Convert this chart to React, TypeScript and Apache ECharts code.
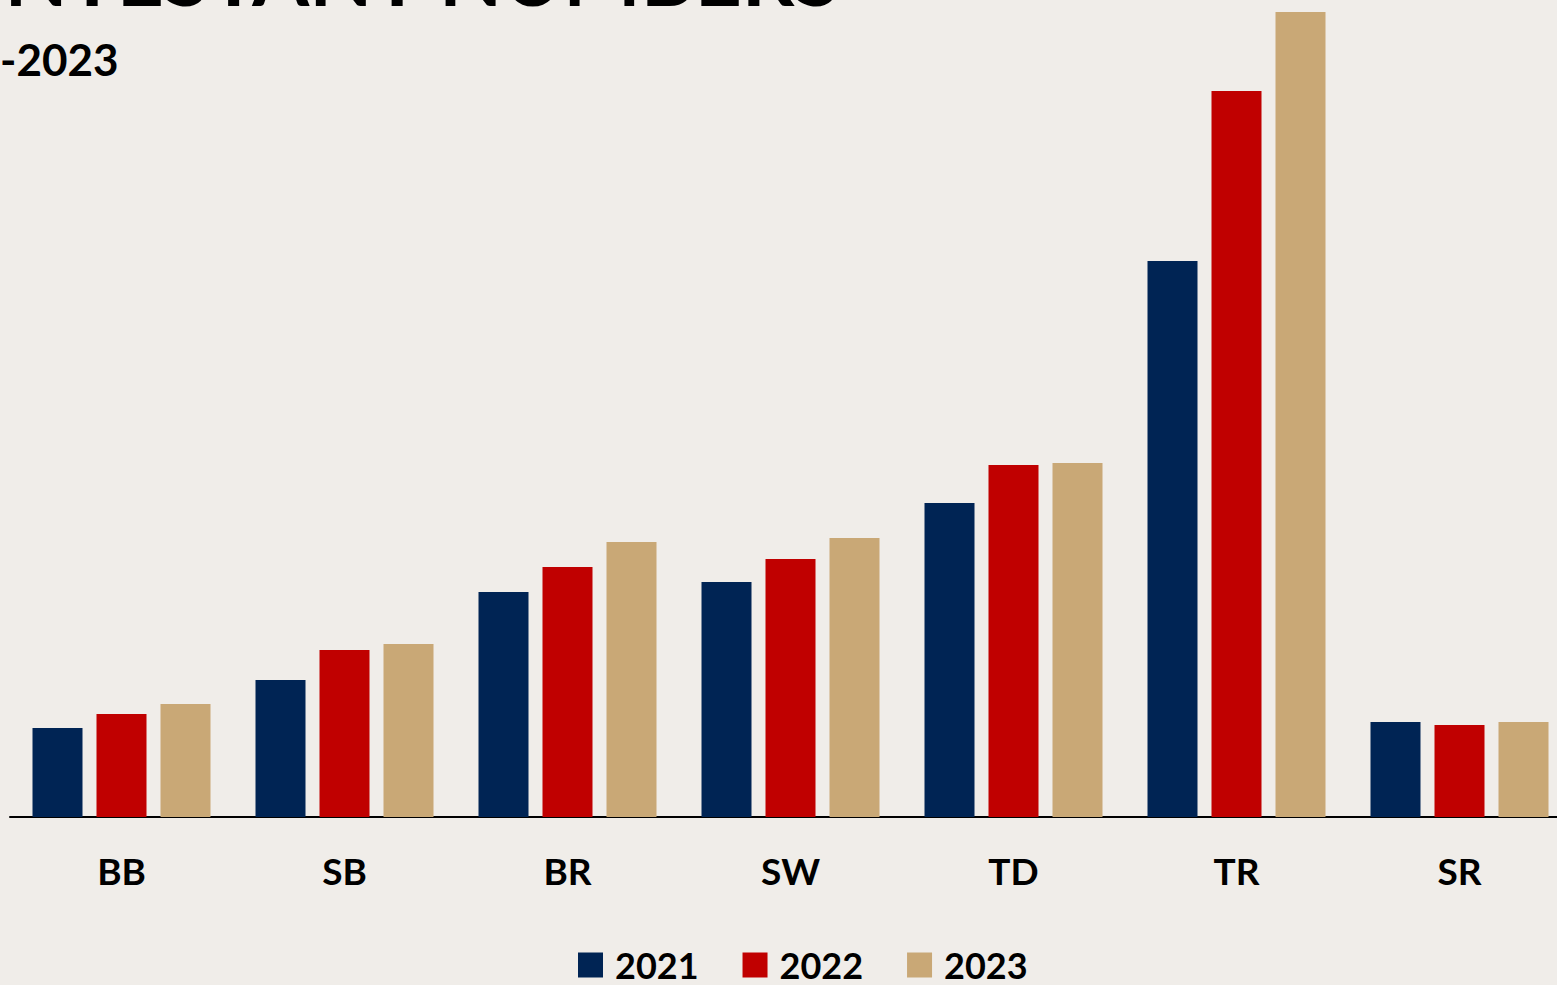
import React, { useEffect, useRef } from "react";
import * as echarts from "echarts";

const categories = ["BB", "SB", "BR", "SW", "TD", "TR", "SR"];
const seriesNames = ["2021", "2022", "2023"];
const values2021 = [89, 137, 225, 235, 314, 556, 95];
const values2022 = [103, 167, 250, 258, 352, 726, 92];
const values2023 = [113, 173, 275, 279, 354, 805, 95];
const colors = ["#002454", "#C00000", "#C9A876"];
const titleText = "CONTESTANT NUMBERS";
const subtitleText = "-2023";

const FONT = "Lato, 'Open Sans', sans-serif";

export default function App() {
  const ref = useRef<HTMLDivElement>(null);
  useEffect(() => {
    document.body.style.margin = "0";
    document.body.style.overflow = "hidden";
    const chart = echarts.init(ref.current!, null, { renderer: "svg" });
    const data = [values2021, values2022, values2023];
    chart.setOption({
      animation: false,
      backgroundColor: "#F0EDE9",
      textStyle: { fontFamily: FONT },
      graphic: [
        {
          type: "text",
          right: 1580 - 842,
          top: -67,
          style: {
            text: titleText,
            font: `bold 82px ${FONT}`,
            fill: "#000",
          },
        },
        {
          type: "text",
          left: 0,
          top: 37,
          style: {
            text: subtitleText,
            font: `bold 44px ${FONT}`,
            fill: "#000",
          },
        },
      ],
      legend: {
        data: seriesNames,
        left: 578,
        top: 947,
        padding: 0,
        itemWidth: 25,
        itemHeight: 25,
        itemGap: 44,
        icon: "rect",
        textStyle: {
          fontSize: 36,
          lineHeight: 28,
          fontWeight: "bold",
          color: "#000",
          fontFamily: FONT,
          padding: [0, 0, 0, 7],
        },
      },
      grid: { left: 10, top: 12, width: 1561, height: 805 },
      xAxis: {
        type: "category",
        data: categories,
        axisLine: { show: true, lineStyle: { color: "#000", width: 2 } },
        axisTick: { show: false },
        axisLabel: {
          color: "#000",
          fontSize: 37,
          fontWeight: "bold",
          fontFamily: FONT,
          margin: 35,
        },
      },
      yAxis: {
        type: "value",
        min: 0,
        max: 805,
        show: false,
        splitLine: { show: false },
      },
      series: seriesNames.map((name, i) => ({
        name,
        type: "bar",
        data: data[i],
        barWidth: 50,
        barGap: "28%",
        itemStyle: { color: colors[i] },
      })),
    });
    return () => chart.dispose();
  }, []);
  return (
    <div
      ref={ref}
      style={{ position: "fixed", left: 0, top: 0, width: 1580, height: 985 }}
    />
  );
}
